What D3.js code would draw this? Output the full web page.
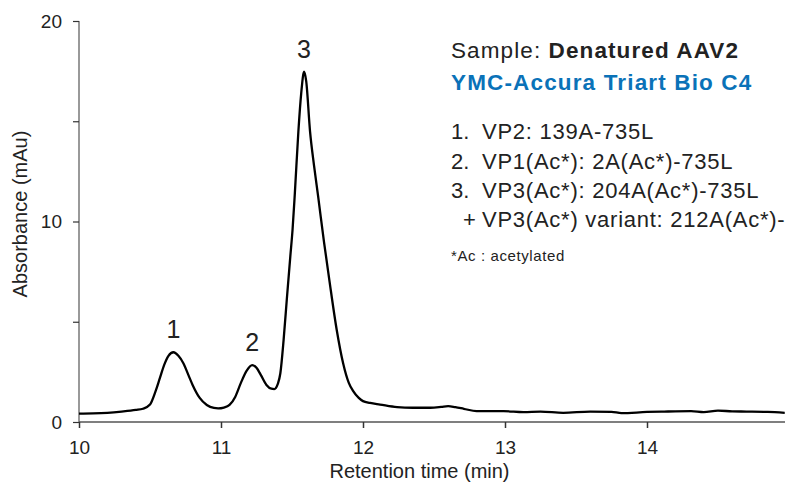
<!DOCTYPE html>
<html><head><meta charset="utf-8">
<script src="https://cdn.jsdelivr.net/npm/d3@7"></script>
<style>
body{margin:0;background:#fff;}
svg text{font-family:"Liberation Sans",Arial,sans-serif;fill:#222;}
</style></head><body>
<svg id="chart" width="785" height="486"></svg>
<script>
// Retention time (min)
const times = [10.00,10.10,10.20,10.30,10.40,10.45,10.50,10.54,10.57,10.60,10.63,10.665,10.70,10.735,10.77,10.80,10.85,10.90,10.95,10.98,11.02,11.06,11.10,11.14,11.18,11.22,11.25,11.28,11.32,11.355,11.375,11.40,11.418,11.441,11.465,11.488,11.504,11.52,11.545,11.565,11.585,11.60,11.627,11.655,11.685,11.725,11.763,11.815,11.86,11.90,11.93,11.97,12.00,12.05,12.12,12.24,12.35,12.475,12.55,12.60,12.65,12.71,12.80,12.99,13.13,13.25,13.41,13.60,13.75,13.82,14.00,14.12,14.31,14.40,14.50,14.60,14.70,14.85,14.97];
// Absorbance (mAu)
const absorbance = [0.42,0.43,0.46,0.52,0.60,0.66,0.87,1.55,2.20,2.85,3.30,3.48,3.30,2.93,2.35,1.85,1.20,0.85,0.70,0.68,0.72,0.85,1.25,1.95,2.55,2.84,2.70,2.35,1.85,1.66,1.64,1.90,2.43,4.10,6.26,8.25,9.60,11.4,14.5,16.4,17.47,17.0,14.5,12.8,11.2,9.0,7.08,4.59,2.93,1.95,1.55,1.20,1.04,0.95,0.87,0.74,0.71,0.71,0.75,0.79,0.74,0.66,0.54,0.54,0.49,0.52,0.46,0.52,0.51,0.44,0.50,0.52,0.54,0.49,0.57,0.53,0.52,0.50,0.46];
const xTicks = [10,11,12,13,14];
const yMajorTicks = [0,10,20];
const yMinorTicks = [5,15];
const peakLabels = ["1","2","3"];
const peakTimes = [10.665,11.22,11.585];
const peakHeights = [3.48,2.84,17.47];
const sampleLabel = "Sample: ";
const sampleName = "Denatured AAV2";
const columnName = "YMC-Accura Triart Bio C4";
const noteNumbers = ["1.","2.","3.","+"];
const noteTexts = ["VP2: 139A-735L","VP1(Ac*): 2A(Ac*)-735L","VP3(Ac*): 204A(Ac*)-735L","VP3(Ac*) variant: 212A(Ac*)-735L"];
const footnote = "*Ac : acetylated";

const svg = d3.select("#chart");
const x0 = 79, x1 = 789, y0 = 422, y1 = 21;
const x = d3.scaleLinear().domain([10,15]).range([x0,x1]);
const y = d3.scaleLinear().domain([0,20]).range([y0,y1]);

// axes
const xAxis = d3.axisBottom(x).tickValues(xTicks).tickSize(6).tickPadding(13).tickFormat(d3.format("d"));
const gx = svg.append("g").attr("transform",`translate(0,${y0})`).call(xAxis);
gx.select(".domain").attr("d",`M${x0},0H785`).attr("stroke","#555").attr("stroke-width",1.5);
gx.selectAll(".tick line").attr("stroke","#333").attr("stroke-width",1.5);
gx.selectAll("text").attr("font-size",19).attr("fill","#222");

const yAxis = d3.axisLeft(y).tickValues(yMajorTicks.concat(yMinorTicks)).tickSize(6).tickPadding(11)
  .tickFormat(d => yMajorTicks.includes(d) ? d : "");
const gy = svg.append("g").attr("transform",`translate(${x0},0)`).call(yAxis);
gy.select(".domain").attr("d",`M0,${y1}V${y0}`).attr("stroke","#555").attr("stroke-width",1.2);
gy.selectAll(".tick line").attr("stroke","#333").attr("stroke-width",1.2);
gy.selectAll("text").attr("font-size",19).attr("fill","#222");

// axis titles
svg.append("text").attr("x",419.5).attr("y",478).attr("text-anchor","middle").attr("font-size",20).text("Retention time (min)");
svg.append("text").attr("transform","translate(27,214) rotate(-90)").attr("text-anchor","middle").attr("font-size",20).text("Absorbance (mAu)");

// trace
const data = times.map((t,i)=>({t, v: absorbance[i]}));
const line = d3.line().x(d=>x(d.t)).y(d=>y(d.v)).curve(d3.curveMonotoneX);
svg.append("path").datum(data).attr("d",line).attr("fill","none").attr("stroke","#000").attr("stroke-width",2.3).attr("stroke-linejoin","round");

// peak labels
svg.selectAll(".pk").data(peakLabels).enter().append("text")
  .attr("x",(d,i)=>x(peakTimes[i])).attr("y",(d,i)=>y(peakHeights[i])-14)
  .attr("text-anchor","middle").attr("font-size",25).text(d=>d);

// annotation block
const t1 = svg.append("text").attr("x",451).attr("y",58).attr("font-size",22.5).attr("letter-spacing",1.1);
t1.append("tspan").text(sampleLabel);
t1.append("tspan").attr("font-weight","bold").text(sampleName);
svg.append("text").attr("x",451).attr("y",90).attr("font-size",22.5).attr("letter-spacing",1.15).attr("font-weight","bold").style("fill","#0a72b8").text(columnName);
const noteY = [139,169,198,227];
const notes = svg.selectAll(".note").data(noteTexts).enter().append("g");
notes.append("text").attr("x",(d,i)=> i===3 ? 463 : 451).attr("y",(d,i)=>noteY[i]).attr("font-size",22).text((d,i)=>noteNumbers[i]);
notes.append("text").attr("x",482).attr("y",(d,i)=>noteY[i]).attr("font-size",22).attr("letter-spacing",0.75).text(d=>d);
svg.append("text").attr("x",451).attr("y",261).attr("font-size",15).attr("letter-spacing",0.6).text(footnote);
</script>
</body></html>
